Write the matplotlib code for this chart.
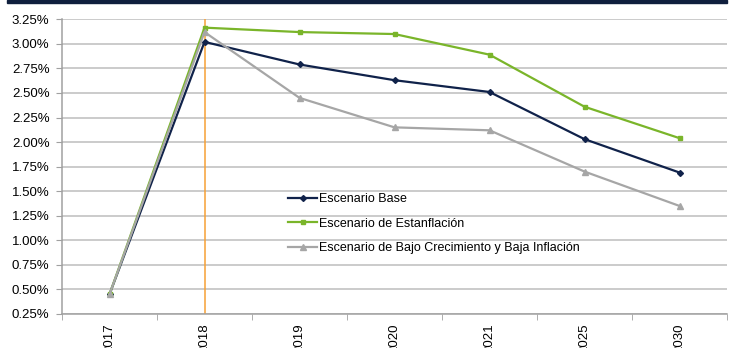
import matplotlib.pyplot as plt
import numpy as np
from matplotlib.patches import Rectangle

plt.rcParams['font.family'] = ['Liberation Sans', 'DejaVu Sans']

years = ["2017", "2018", "2019", "2020", "2021", "2025", "2030"]
base = [0.45, 3.02, 2.79, 2.63, 2.51, 2.03, 1.69]
estanflacion = [0.45, 3.165, 3.12, 3.10, 2.89, 2.36, 2.04]
bajo = [0.45, 3.12, 2.45, 2.15, 2.12, 1.70, 1.35]
marca = "2018"

fig = plt.figure(figsize=(7.31, 3.48), dpi=100)
ax = fig.add_axes([62/731, 34/348, 665/731, 294.7/348])

x = np.arange(len(years))
ax.plot(x, base, color="#10224a", lw=1.6, marker="D", ms=3, label="Escenario Base")
ax.plot(x, estanflacion, color="#7ab52a", lw=1.6, marker="s", ms=3.5, label="Escenario de Estanflación")
ax.plot(x, bajo, color="#a6a6a6", lw=1.6, marker="^", ms=4, label="Escenario de Bajo Crecimiento y Baja Inflación")

# linea vertical en el ultimo dato observado
ax.axvline(years.index(marca), color="#f7a035", lw=1.1, zorder=1)

ax.set_xlim(-0.5, len(years) - 0.5)
ax.set_ylim(0.25, 3.25)
yt = np.arange(0.25, 3.26, 0.25)
ax.set_yticks(yt)
ax.set_yticklabels(["%.2f%%" % v for v in yt], fontsize=9.5)
ax.set_xticks(x)
ax.set_xticklabels(years, rotation=90, fontsize=9.5, va="top")
ax.set_xticks(np.arange(-0.5, len(years)), minor=True)
ax.tick_params(axis="x", which="major", length=0, pad=7)
ax.tick_params(axis="x", which="minor", length=4, color="#a0a0a0")
ax.tick_params(axis="y", length=4, color="#a0a0a0", pad=5)

ax.grid(axis="y", color="#bdbdbd", lw=1.1)
ax.set_axisbelow(True)
for s in ["top", "right"]:
    ax.spines[s].set_visible(False)
for s in ["left", "bottom"]:
    ax.spines[s].set_color("#a0a0a0")
    ax.spines[s].set_linewidth(1.1)

ax.legend(loc="upper left", bbox_to_anchor=(0.333, 0.4265), frameon=False, fontsize=9,
          handlelength=2.3, handletextpad=0.15, labelspacing=1.0, borderaxespad=0)

# franja oscura superior
fig.patches.append(Rectangle((7/731, 345/348), 720/731, 3/348, transform=fig.transFigure,
                             color="#0f1f3d", zorder=5))

fig.savefig("out.png", dpi=100)
